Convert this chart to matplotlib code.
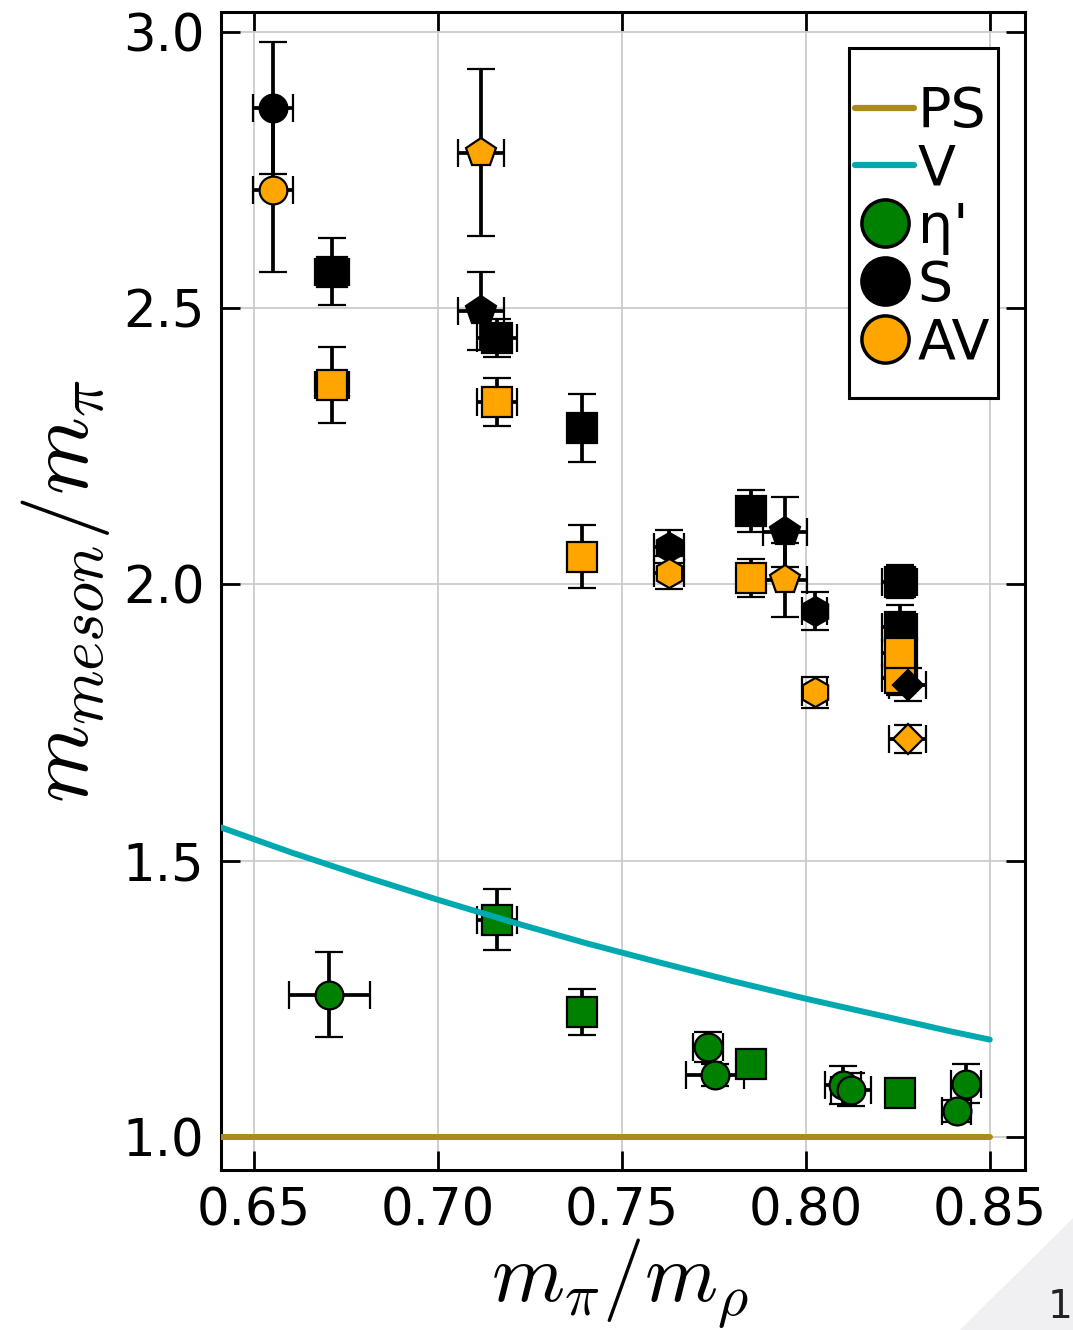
import matplotlib.pyplot as plt
from matplotlib.lines import Line2D
from matplotlib.patches import Polygon, Rectangle

plt.rcParams['mathtext.fontset'] = 'cm'
plt.rcParams['font.family'] = 'DejaVu Sans'

# ---- data ----
# S / AV ensembles (marker shape marks the ensemble)
ens_marker = ['o', 's', 'p', 's', 's', 'h', 's', 'p', 'h', 's', 's', 'D']
ens_x      = [0.6552, 0.6712, 0.7117, 0.7160, 0.7391, 0.7628, 0.7851, 0.7943, 0.8024, 0.8255, 0.8255, 0.8277]
ens_xerr   = [0.0055, 0.0046, 0.0063, 0.0055, 0.0, 0.0040, 0.0038, 0.0060, 0.0034, 0.0047, 0.0047, 0.0050]
s_y        = [2.862, 2.566, 2.495, 2.446, 2.283, 2.068, 2.133, 2.095, 1.952, 2.005, 1.923, 1.818]
s_yerr     = [0.120, 0.060, 0.070, 0.035, 0.062, 0.030, 0.038, 0.063, 0.034, 0.030, 0.040, 0.030]
av_y       = [2.714, 2.361, 2.781, 2.330, 2.050, 2.021, 2.012, 2.008, 1.805, 1.830, 1.876, 1.720]
av_yerr    = [0.148, 0.069, 0.151, 0.043, 0.057, 0.030, 0.034, 0.067, 0.028, 0.030, 0.030, 0.025]

# eta' points
eta_marker = ['o', 's', 's', 'o', 'o', 's', 'o', 'o', 's', 'o', 'o']
eta_x      = [0.6704, 0.7160, 0.7391, 0.7734, 0.7753, 0.7850, 0.8101, 0.8122, 0.8255, 0.8435, 0.8410]
eta_xerr   = [0.011, 0.0055, 0.0, 0.004, 0.008, 0.0, 0.005, 0.0055, 0.0, 0.004, 0.004]
eta_y      = [1.257, 1.393, 1.226, 1.163, 1.112, 1.132, 1.094, 1.0855, 1.080, 1.096, 1.047]
eta_yerr   = [0.077, 0.055, 0.041, 0.027, 0.020, 0.015, 0.035, 0.030, 0.0, 0.035, 0.020]

# PS and V curves
ps_x = [0.641, 0.85]
ps_y = [1.0, 1.0]
v_x = [0.641, 0.66, 0.68, 0.70, 0.72, 0.74, 0.76, 0.78, 0.80, 0.82, 0.84, 0.85]
v_y = [1.560, 1.515, 1.471, 1.429, 1.389, 1.351, 1.316, 1.282, 1.250, 1.220, 1.190, 1.176]

c_ps = '#AB8B1E'
c_v = '#00A9B0'
c_eta = '#008000'
c_s = 'black'
c_av = '#FFA500'

msize = {'o': 20, 's': 21, 'p': 22, 'h': 21, 'D': 15}

fig = plt.figure(figsize=(10.73, 13.30), dpi=100)
ax = fig.add_axes([0.206, 0.1203, 0.749, 0.8707])


def point(x, y, xe, ye, m, col):
    ax.errorbar(x, y, yerr=ye if ye > 0 else None, xerr=xe if xe > 0 else None,
                fmt=m, ms=msize[m], mfc=col, mec='black', mew=1.6,
                ecolor='black', elinewidth=2.7, capsize=10, capthick=2.7)


for i in range(len(eta_x)):
    point(eta_x[i], eta_y[i], eta_xerr[i], eta_yerr[i], eta_marker[i], c_eta)

for i in range(len(ens_x)):
    point(ens_x[i], s_y[i], ens_xerr[i], s_yerr[i], ens_marker[i], c_s)
    point(ens_x[i], av_y[i], ens_xerr[i], av_yerr[i], ens_marker[i], c_av)

ax.plot(ps_x, ps_y, color=c_ps, lw=4.3, solid_capstyle='round', zorder=5)
ax.plot(v_x, v_y, color=c_v, lw=4.3, solid_capstyle='round', zorder=5)

ax.set_xlim(0.641, 0.8595)
ax.set_ylim(0.940, 3.036)
ax.set_xticks([0.65, 0.70, 0.75, 0.80, 0.85])
ax.set_yticks([1.0, 1.5, 2.0, 2.5, 3.0])
ax.grid(True, color='#cccccc', lw=1.3)
ax.set_axisbelow(True)
ax.tick_params(direction='in', length=14, width=2, labelsize=37, pad=12,
               top=True, right=True)
for sp in ax.spines.values():
    sp.set_linewidth(2.2)

fig.text(0.578, 1 - 1302 / 1330, r'$m_{\pi}/m_{\rho}$', fontsize=60,
         ha='center', va='baseline')
ax.set_ylabel(r'$m_{meson}/m_{\pi}$', fontsize=64, labelpad=8)

# legend: entries without frame, frame drawn as its own box
handles = [
    Line2D([], [], color=c_ps, lw=4.5, solid_capstyle='round'),
    Line2D([], [], color=c_v, lw=4.5, solid_capstyle='round'),
    Line2D([], [], ls='', marker='o', ms=34, mfc=c_eta, mec='black', mew=2.5),
    Line2D([], [], ls='', marker='o', ms=34, mfc=c_s, mec='black', mew=2.5),
    Line2D([], [], ls='', marker='o', ms=34, mfc=c_av, mec='black', mew=2.5),
]
leg = ax.legend(handles, ['PS', 'V', "η'", 'S', 'AV'], loc='upper left',
                bbox_to_anchor=(0.7886, 0.9369), borderaxespad=0, fontsize=40,
                handlelength=1.07, handletextpad=0.06, labelspacing=0.07,
                borderpad=0, frameon=False)
leg.set_zorder(11)
ax.add_patch(Rectangle((0.7811, 0.6667), 0.9664 - 0.7811, 0.9689 - 0.6667,
                       transform=ax.transAxes, facecolor='white',
                       edgecolor='black', lw=2.2, zorder=10))

# page corner
fig.patches.append(Polygon([[960, 0], [1073, 112], [1073, 0]], closed=True,
                           transform=None, facecolor='#f0f0f3', edgecolor='none'))
fig.text(1060 / 1073, 4 / 1330, '1', fontsize=28, color='#222222',
         ha='center', va='bottom')

fig.savefig('out.png', dpi=100)
